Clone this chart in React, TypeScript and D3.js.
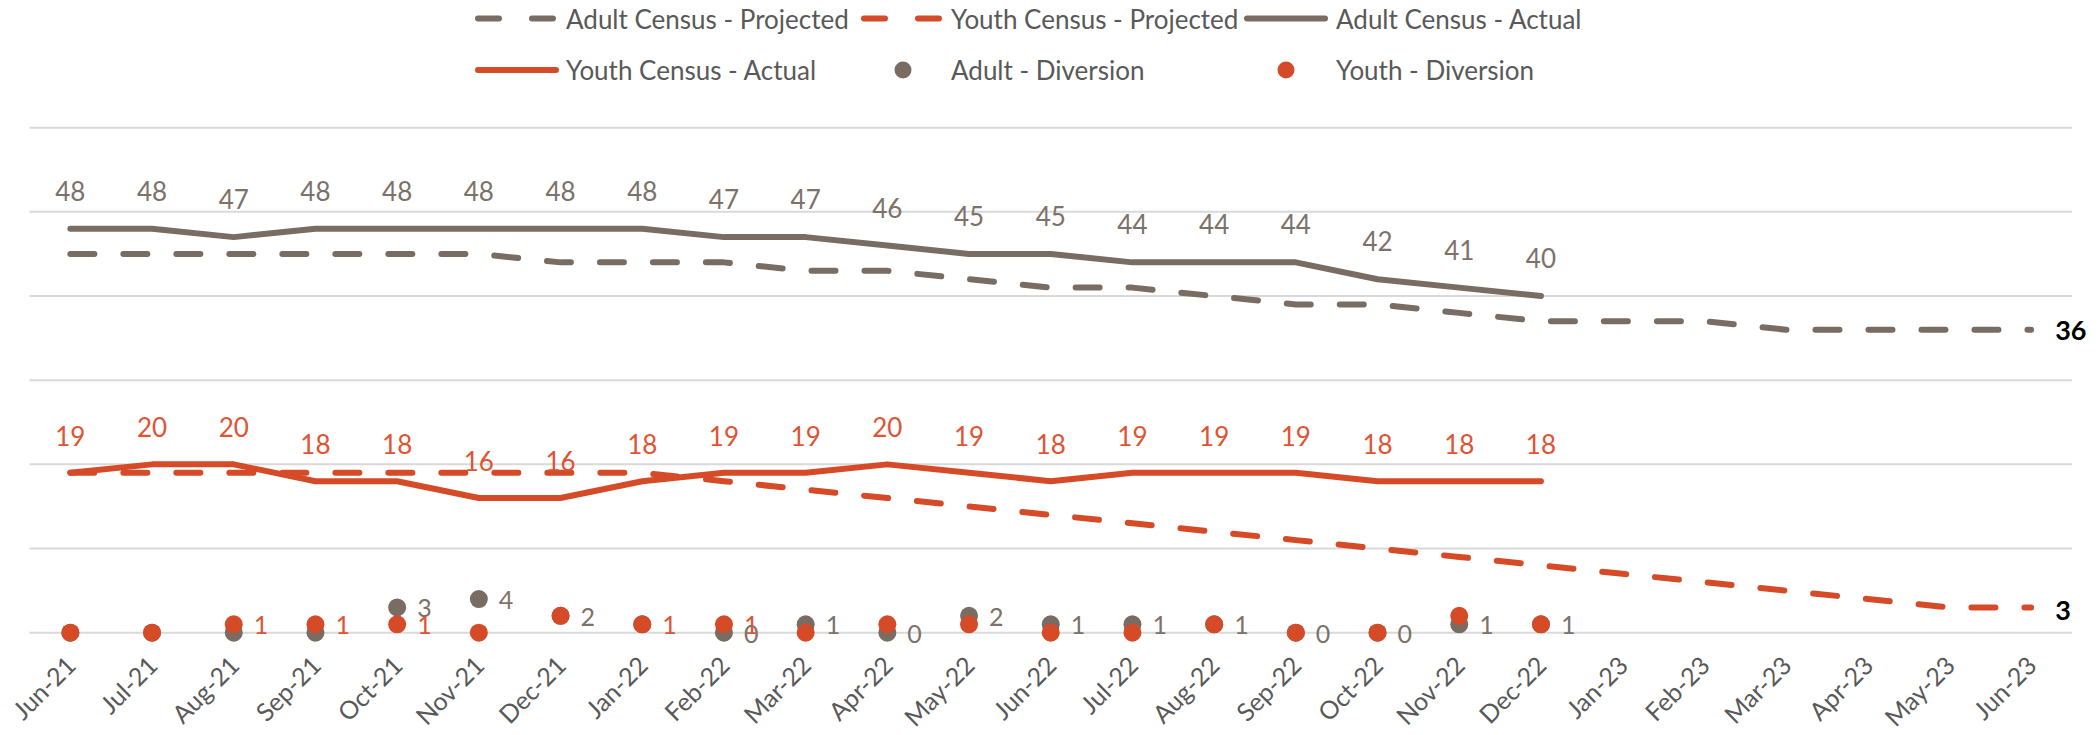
import React from 'react';
import * as d3 from 'd3';

const categories = [
  'Jun-21', 'Jul-21', 'Aug-21', 'Sep-21', 'Oct-21', 'Nov-21', 'Dec-21',
  'Jan-22', 'Feb-22', 'Mar-22', 'Apr-22', 'May-22', 'Jun-22', 'Jul-22',
  'Aug-22', 'Sep-22', 'Oct-22', 'Nov-22', 'Dec-22',
  'Jan-23', 'Feb-23', 'Mar-23', 'Apr-23', 'May-23', 'Jun-23',
];

const adultProjected = [45, 45, 45, 45, 45, 45, 44, 44, 44, 43, 43, 42, 41, 41, 40, 39, 39, 38, 37, 37, 37, 36, 36, 36, 36];
const youthProjected = [19, 19, 19, 19, 19, 19, 19, 19, 18, 17, 16, 15, 14, 13, 12, 11, 10, 9, 8, 7, 6, 5, 4, 3, 3];
const adultActual = [48, 48, 47, 48, 48, 48, 48, 48, 47, 47, 46, 45, 45, 44, 44, 44, 42, 41, 40];
const youthActual = [19, 20, 20, 18, 18, 16, 16, 18, 19, 19, 20, 19, 18, 19, 19, 19, 18, 18, 18];
const adultDiversion = [0, 0, 0, 0, 3, 4, 2, 1, 0, 1, 0, 2, 1, 1, 1, 0, 0, 1, 1];
const youthDiversion = [0, 0, 1, 1, 1, 0, 2, 1, 1, 0, 1, 1, 0, 0, 1, 0, 0, 2, 1];
const adultDiversionLabeled = [false, false, false, false, true, true, true, false, true, true, true, true, true, true, true, true, true, true, true];
const youthDiversionLabeled = [false, false, true, true, true, false, false, true, true, false, false, false, false, false, false, false, false, false, false];
const yTicks = [0, 10, 20, 30, 40, 50, 60];

const legendItems = [
  { name: 'Adult Census - Projected', kind: 'dash', color: '#786c63' },
  { name: 'Youth Census - Projected', kind: 'dash', color: '#d64b27' },
  { name: 'Adult Census - Actual', kind: 'line', color: '#786c63' },
  { name: 'Youth Census - Actual', kind: 'line', color: '#d64b27' },
  { name: 'Adult - Diversion', kind: 'dot', color: '#786c63' },
  { name: 'Youth - Diversion', kind: 'dot', color: '#d64b27' },
];

const GRAY = '#786c63';
const RED = '#d64b27';
const GRAY_LABEL = '#7d726a';
const RED_LABEL = '#de5434';
const FONT = 'Lato, "Open Sans", sans-serif';

export default function App() {
  const W = 2100;
  const H = 735;
  const left = 29.5;
  const right = 2072;
  const x = d3.scalePoint<string>().domain(categories).range([left, right]).padding(0.5);
  const y = d3.scaleLinear().domain([0, 60]).range([632.7, 127.7]);

  const line = d3
    .line<number>()
    .x((_, i) => x(categories[i]) as number)
    .y((d) => y(d));

  const lastI = categories.length - 1;
  const lastX = x(categories[lastI]) as number;

  const legendCols = [475, 861, 1244];
  const legendTextX = [566, 951, 1336];
  const legendRows = [18.5, 70];

  return (
    <svg width={W} height={H} style={{ position: 'absolute', left: 0, top: 0, background: '#fff' }} fontFamily={FONT}>
      {/* gridlines */}
      {yTicks.map((t) => (
        <line key={t} x1={left} x2={right} y1={y(t)} y2={y(t)} stroke="#d9d9d9" strokeWidth={2} />
      ))}

      {/* projected lines */}
      <path d={line(adultProjected) || ''} fill="none" stroke={GRAY} strokeWidth={6} strokeDasharray="24 29" strokeLinecap="round" strokeLinejoin="round" />
      <path d={line(youthProjected) || ''} fill="none" stroke={RED} strokeWidth={6} strokeDasharray="24 29" strokeLinecap="round" strokeLinejoin="round" />

      {/* actual lines */}
      <path d={line(adultActual) || ''} fill="none" stroke={GRAY} strokeWidth={6} strokeLinecap="round" strokeLinejoin="round" />
      <path d={line(youthActual) || ''} fill="none" stroke={RED} strokeWidth={6} strokeLinecap="round" strokeLinejoin="round" />

      {/* diversion points */}
      {adultDiversion.map((v, i) => (
        <circle key={'ad' + i} cx={x(categories[i]) as number} cy={y(v)} r={9} fill={GRAY} />
      ))}
      {youthDiversion.map((v, i) => (
        <circle key={'yd' + i} cx={x(categories[i]) as number} cy={y(v)} r={9} fill={RED} />
      ))}

      {/* census labels */}
      {adultActual.map((v, i) => (
        <text key={'aal' + i} x={x(categories[i]) as number} y={y(v) - 38} textAnchor="middle" dominantBaseline="central" fontSize={26} fill={GRAY_LABEL}>
          {v}
        </text>
      ))}
      {youthActual.map((v, i) => (
        <text key={'yal' + i} x={x(categories[i]) as number} y={y(v) - 37} textAnchor="middle" dominantBaseline="central" fontSize={26} fill={RED_LABEL}>
          {v}
        </text>
      ))}

      {/* diversion labels */}
      {adultDiversion.map((v, i) =>
        adultDiversionLabeled[i] ? (
          <text key={'adl' + i} x={(x(categories[i]) as number) + 20} y={y(v)} dominantBaseline="central" fontSize={25} fill={GRAY_LABEL}>
            {v}
          </text>
        ) : null
      )}
      {youthDiversion.map((v, i) =>
        youthDiversionLabeled[i] ? (
          <text key={'ydl' + i} x={(x(categories[i]) as number) + 20} y={y(v)} dominantBaseline="central" fontSize={25} fill={RED_LABEL}>
            {v}
          </text>
        ) : null
      )}

      {/* end labels */}
      <text x={lastX + 24} y={y(adultProjected[lastI])} dominantBaseline="central" fontSize={27} fontWeight="bold" fill="#000">
        {adultProjected[lastI]}
      </text>
      <text x={lastX + 24} y={y(youthProjected[lastI]) + 2} dominantBaseline="central" fontSize={27} fontWeight="bold" fill="#000">
        {youthProjected[lastI]}
      </text>

      {/* x axis labels */}
      {categories.map((c) => (
        <text
          key={c}
          transform={`translate(${(x(c) as number) + 1},${661}) rotate(-45)`}
          textAnchor="end"
          dy="0.35em"
          fontSize={25}
          fill="#595959"
        >
          {c}
        </text>
      ))}

      {/* legend */}
      {legendItems.map((item, k) => {
        const col = k % 3;
        const row = Math.floor(k / 3);
        const sx = legendCols[col];
        const cy = legendRows[row];
        return (
          <g key={item.name}>
            {item.kind === 'dash' && (
              <line x1={sx + 3} x2={sx + 78} y1={cy} y2={cy} stroke={item.color} strokeWidth={6} strokeDasharray="21 33" strokeLinecap="round" />
            )}
            {item.kind === 'line' && (
              <line x1={sx + 3} x2={sx + 81} y1={cy} y2={cy} stroke={item.color} strokeWidth={6} strokeLinecap="round" />
            )}
            {item.kind === 'dot' && <circle cx={sx + 42} cy={cy} r={8.5} fill={item.color} />}
            <text x={legendTextX[col]} y={cy} dominantBaseline="central" fontSize={26} fill="#595959">
              {item.name}
            </text>
          </g>
        );
      })}
    </svg>
  );
}
